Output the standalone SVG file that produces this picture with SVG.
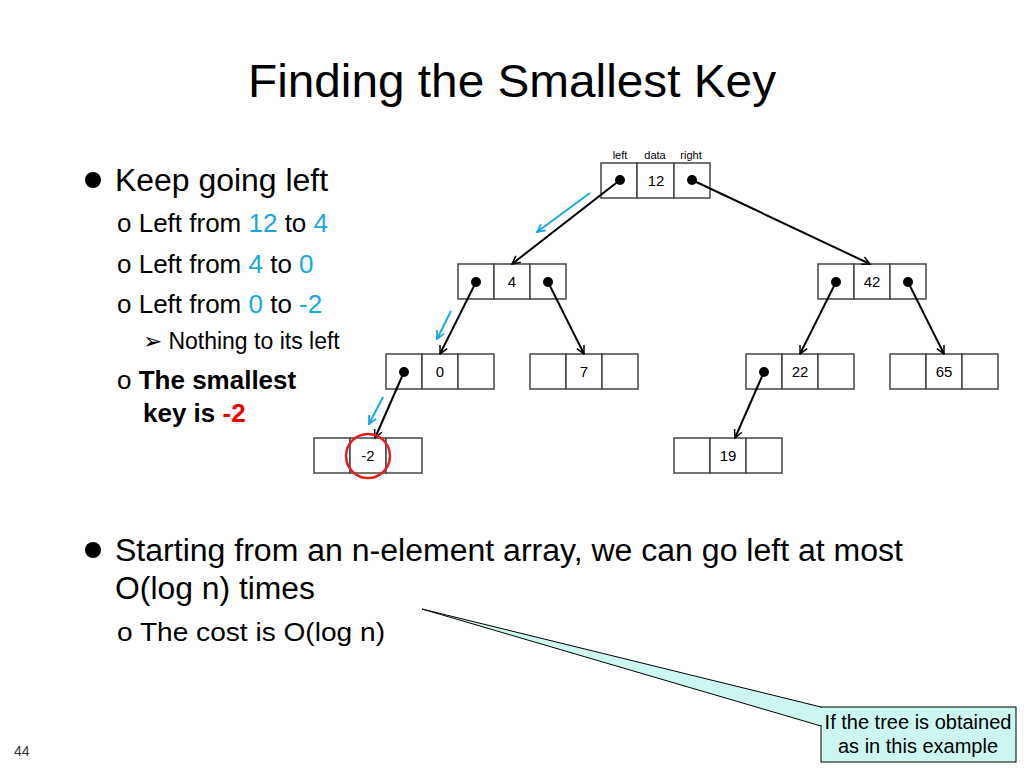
<svg xmlns="http://www.w3.org/2000/svg" width="1024" height="768" viewBox="0 0 1024 768">
<defs>
<style>
text{font-family:"Liberation Sans",Arial,sans-serif}
.c{fill:#fff;stroke:#444;stroke-width:1.5}
.d{font-size:15px;text-anchor:middle;fill:#000}
.e{stroke:#000;stroke-width:2;fill:none;marker-end:url(#ah)}
.b{stroke:#1aa7e0;stroke-width:2;fill:none;marker-end:url(#bh)}
.t{font-size:31px;fill:#000}
.s{font-size:26px;fill:#000}
.bl{fill:#1aa7e0}
</style>
<marker id="ah" markerWidth="10" markerHeight="10" refX="9" refY="5" orient="auto" markerUnits="userSpaceOnUse"><path d="M1,1 L9,5 L1,9" fill="none" stroke="#000" stroke-width="1.5"/></marker>
<marker id="bh" markerWidth="10" markerHeight="10" refX="9" refY="5" orient="auto" markerUnits="userSpaceOnUse"><path d="M1,1 L9,5 L1,9" fill="none" stroke="#1aa7e0" stroke-width="1.8"/></marker>
</defs>
<rect width="1024" height="768" fill="#fff"/>
<text x="248" y="97" font-size="47" textLength="528" lengthAdjust="spacingAndGlyphs">Finding the Smallest Key</text>
<circle cx="93" cy="180" r="8"/>
<text x="115" y="191" class="t" textLength="213" lengthAdjust="spacingAndGlyphs">Keep going left</text>
<text x="117" y="232" class="s">o Left from <tspan class="bl">12</tspan> to <tspan class="bl">4</tspan></text>
<text x="117" y="273" class="s">o Left from <tspan class="bl">4</tspan> to <tspan class="bl">0</tspan></text>
<text x="117" y="313" class="s">o Left from <tspan class="bl">0</tspan> to <tspan class="bl">-2</tspan></text>
<text x="143" y="349" font-size="23">➢ Nothing to its left</text>
<text x="117" y="389" class="s">o <tspan font-weight="bold">The smallest</tspan></text>
<text x="143" y="422" class="s" font-weight="bold">key is <tspan fill="#e00">-2</tspan></text>
<circle cx="93" cy="550" r="8"/>
<text x="115" y="561" class="t" textLength="788" lengthAdjust="spacingAndGlyphs">Starting from an n-element array, we can go left at most</text>
<text x="115" y="599" class="t" textLength="200" lengthAdjust="spacingAndGlyphs">O(log n) times</text>
<text x="117" y="641" class="s" textLength="268" lengthAdjust="spacingAndGlyphs">o The cost is O(log n)</text>
<text x="14" y="756" font-size="14" fill="#333">44</text>
<g><text x="620" y="159" class="d" style="font-size:11px">left</text><text x="655" y="159" class="d" style="font-size:11px">data</text><text x="691" y="159" class="d" style="font-size:11px">right</text></g>
<g id="n12"><rect class="c" x="601" y="163" width="36" height="35"/><rect class="c" x="637" y="163" width="37" height="35"/><rect class="c" x="674" y="163" width="36" height="35"/><text class="d" x="656" y="186">12</text><circle cx="620" cy="180" r="5"/><circle cx="692" cy="180" r="5"/></g>
<g id="n4"><rect class="c" x="458" y="264" width="36" height="35"/><rect class="c" x="494" y="264" width="36" height="35"/><rect class="c" x="530" y="264" width="36" height="35"/><text class="d" x="512" y="287">4</text><circle cx="476" cy="282" r="5"/><circle cx="548" cy="282" r="5"/></g>
<g id="n42"><rect class="c" x="818" y="264" width="36" height="35"/><rect class="c" x="854" y="264" width="36" height="35"/><rect class="c" x="890" y="264" width="36" height="35"/><text class="d" x="872" y="287">42</text><circle cx="836" cy="282" r="5"/><circle cx="908" cy="282" r="5"/></g>
<g id="n0"><rect class="c" x="386" y="354" width="36" height="35"/><rect class="c" x="422" y="354" width="36" height="35"/><rect class="c" x="458" y="354" width="36" height="35"/><text class="d" x="440" y="377">0</text><circle cx="404" cy="372" r="5"/></g>
<g id="n7"><rect class="c" x="530" y="354" width="36" height="35"/><rect class="c" x="566" y="354" width="36" height="35"/><rect class="c" x="602" y="354" width="36" height="35"/><text class="d" x="584" y="377">7</text></g>
<g id="n22"><rect class="c" x="746" y="354" width="36" height="35"/><rect class="c" x="782" y="354" width="36" height="35"/><rect class="c" x="818" y="354" width="36" height="35"/><text class="d" x="800" y="377">22</text><circle cx="764" cy="372" r="5"/></g>
<g id="n65"><rect class="c" x="890" y="354" width="36" height="35"/><rect class="c" x="926" y="354" width="36" height="35"/><rect class="c" x="962" y="354" width="36" height="35"/><text class="d" x="944" y="377">65</text></g>
<g id="nm2"><rect class="c" x="314" y="438" width="36" height="35"/><rect class="c" x="350" y="438" width="36" height="35"/><rect class="c" x="386" y="438" width="36" height="35"/><text class="d" x="368" y="461">-2</text></g>
<g id="n19"><rect class="c" x="674" y="438" width="36" height="35"/><rect class="c" x="710" y="438" width="36" height="35"/><rect class="c" x="746" y="438" width="36" height="35"/><text class="d" x="728" y="461">19</text></g>
<g id="connectors">
<line class="e" x1="620" y1="180" x2="512" y2="264"/>
<line class="e" x1="692" y1="180" x2="870" y2="264"/>
<line class="e" x1="476" y1="282" x2="440" y2="354"/>
<line class="e" x1="548" y1="282" x2="584" y2="354"/>
<line class="e" x1="836" y1="282" x2="800" y2="354"/>
<line class="e" x1="908" y1="282" x2="944" y2="354"/>
<line class="e" x1="404" y1="372" x2="375" y2="438"/>
<line class="e" x1="764" y1="372" x2="735" y2="438"/>
<line class="b" x1="590" y1="193" x2="537" y2="232"/>
<line class="b" x1="451" y1="311" x2="437" y2="339"/>
<line class="b" x1="383" y1="397" x2="369" y2="424"/>
</g>
<circle cx="368" cy="456" r="22" fill="none" stroke="#e02020" stroke-width="2.5"/>
<g id="callout">
<path d="M821,707 L422,609 L821,726" fill="#ccf7f0" stroke="#000" stroke-width="1"/>
<rect x="821" y="707" width="195" height="55" fill="#ccf7f0" stroke="#000" stroke-width="1"/>
<line x1="821" y1="708" x2="821" y2="725" stroke="#ccf7f0" stroke-width="2"/>
<text x="918" y="729" font-size="20" text-anchor="middle">If the tree is obtained</text>
<text x="918" y="753" font-size="20" text-anchor="middle">as in this example</text>
</g>
</svg>
